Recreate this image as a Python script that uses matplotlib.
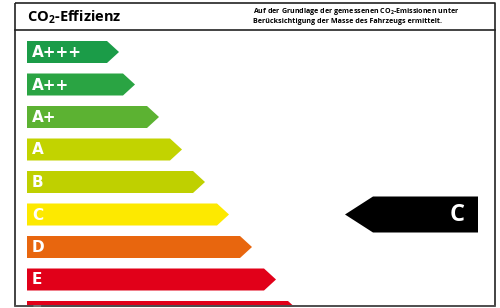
import matplotlib.pyplot as plt
from matplotlib.patches import Polygon

plt.rcParams['font.family'] = ['Open Sans', 'DejaVu Sans']
plt.rcParams['mathtext.fontset'] = 'custom'
plt.rcParams['mathtext.rm'] = 'Open Sans'
plt.rcParams['mathtext.bf'] = 'Open Sans:bold'

# efficiency classes and arrow lengths (label units, left edge to tip)
classes = ['A+++', 'A++', 'A+', 'A', 'B', 'C', 'D', 'E', 'F']
lengths = [92, 108, 132, 155, 178, 202, 225, 249, 273]
colors = ['#1b9c48', '#2aa443', '#5cb232', '#c2d300', '#bfd000',
          '#fde900', '#e8660e', '#e10019', '#e10019']
rating = 'C'
title = r'CO$_\mathbf{2}$-Effizienz'
note = ('Auf der Grundlage der gemessenen CO$_\\mathbf{2}$-Emissionen unter\n'
        'Berücksichtigung der Masse des Fahrzeugs ermittelt.')

W, H = 500, 308
fig = plt.figure(figsize=(W / 100, H / 100), dpi=100)
ax = fig.add_axes([0, 0, 1, 1])
ax.set_xlim(0, W)
ax.set_ylim(H, 0)
ax.axis('off')

# frame
left, right, top, bottom, head = 15, 495, 3, 306, 30
ax.plot([left, right, right, left, left], [top, top, bottom, bottom, top],
        color='#222222', lw=1.2, solid_capstyle='butt')
ax.plot([left, right], [head, head], color='#222222', lw=1.2)

ax.text(27, 17, title, fontsize=10.5, fontweight='bold', va='center', ha='left')
ax.text(253, 15.5, note, fontsize=5.1, fontweight='bold', va='center', ha='left',
        linespacing=1.35)

# class arrows
x0, y0, step, h, tip = 27, 41, 32.5, 22, 12
for i, (c, L, col) in enumerate(zip(classes, lengths, colors)):
    y = y0 + i * step
    pts = [(x0, y), (x0 + L - tip, y), (x0 + L, y + h / 2),
           (x0 + L - tip, y + h), (x0, y + h)]
    ax.add_patch(Polygon(pts, closed=True, fc=col, ec='none'))
    ax.text(x0 + 5, y + h / 2 + 0.5, c, color='white', fontsize=11,
            fontweight='bold', va='center', ha='left', family='DejaVu Sans',
            clip_on=True)

# cover below bottom line
ax.add_patch(Polygon([(0, bottom + 0.6), (W, bottom + 0.6), (W, H), (0, H)],
                     fc='white', ec='none', zorder=5))
ax.plot([left, right], [bottom, bottom], color='#555555', lw=1.2, zorder=6)

# rating arrow
k = classes.index(rating)
yc = y0 + k * step + h / 2
ah = 36
bx0, bx1 = 373, 478
pts = [(bx1, yc - ah / 2), (bx0, yc - ah / 2), (345, yc), (bx0, yc + ah / 2),
       (bx1, yc + ah / 2)]
ax.add_patch(Polygon(pts, closed=True, fc='black', ec='none'))
ax.text(457, yc + 0.5, rating, color='white', fontsize=17, fontweight='bold',
        va='center', ha='center')

fig.savefig('out.png', dpi=100)
